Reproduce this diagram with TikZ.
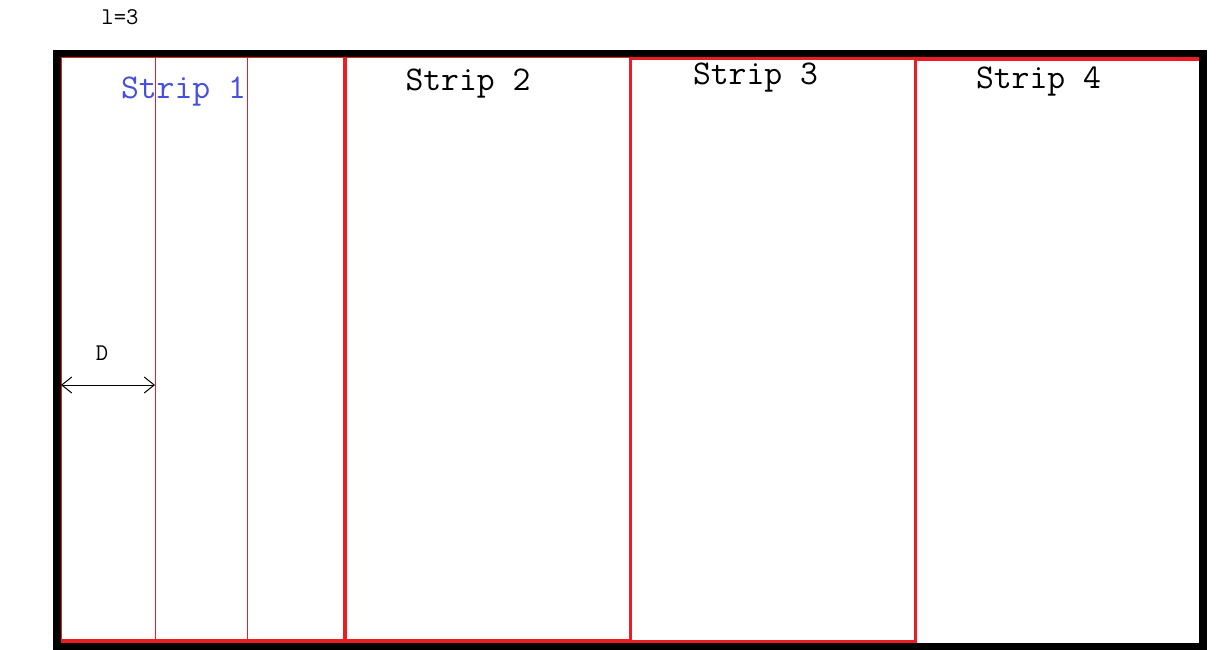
\documentclass[tikz,border=0pt]{standalone}
\usepackage{tikz}
\usetikzlibrary{arrows.meta,positioning}
\tikzstyle{striptext}=[font=\ttfamily\fontsize{26}{26}\selectfont,inner sep=0pt,anchor=base]
\tikzstyle{smalltext}=[font=\ttfamily\fontsize{18}{18}\selectfont,inner sep=0pt,anchor=base]
\tikzstyle{stripbox}=[draw=myred,line width=2.6pt]
\tikzstyle{divider}=[draw=myred,line width=0.75pt]
\tikzstyle{frame}=[draw=black,line width=5.6pt]
\definecolor{myred}{RGB}{237,28,36}
\definecolor{myblue}{RGB}{70,80,220}

\begin{document}
\begin{tikzpicture}[x=0.75pt,y=-0.75pt,>={Straight Barb[length=7.5pt,width=12pt]}]
\useasboundingbox (0,0) rectangle (1218,650);
% strips
\draw[stripbox] (60,56) rectangle (345,641);
\draw[stripbox] (345,56) rectangle (630.5,641);
\draw[stripbox] (630.5,58) rectangle (915.5,641.5);
\draw[stripbox] (915.5,59) rectangle (1201,646);
\draw[divider] (155,57) -- (155,641);
\draw[divider] (247,57) -- (247,641);
% outer frame
\draw[frame] (57,53.7) rectangle (1203,646.5);
% labels
\draw (120,24) node [smalltext] (ell) {l=3};
\draw (183.5,98.3) node [striptext,text=myblue] (s1) {Strip 1};
\draw (468,90.7) node [striptext] (s2) {Strip 2};
\draw (755.5,84.3) node [striptext] (s3) {Strip 3};
\draw (1038.5,88.3) node [striptext] (s4) {Strip 4};
\draw (102,360) node [smalltext] (dist) {D};
\coordinate (d1) at (61,385);
\coordinate (d2) at (155,385);
\draw[<->,line width=0.75pt] (d1) -- (d2);
\end{tikzpicture}
\end{document}
